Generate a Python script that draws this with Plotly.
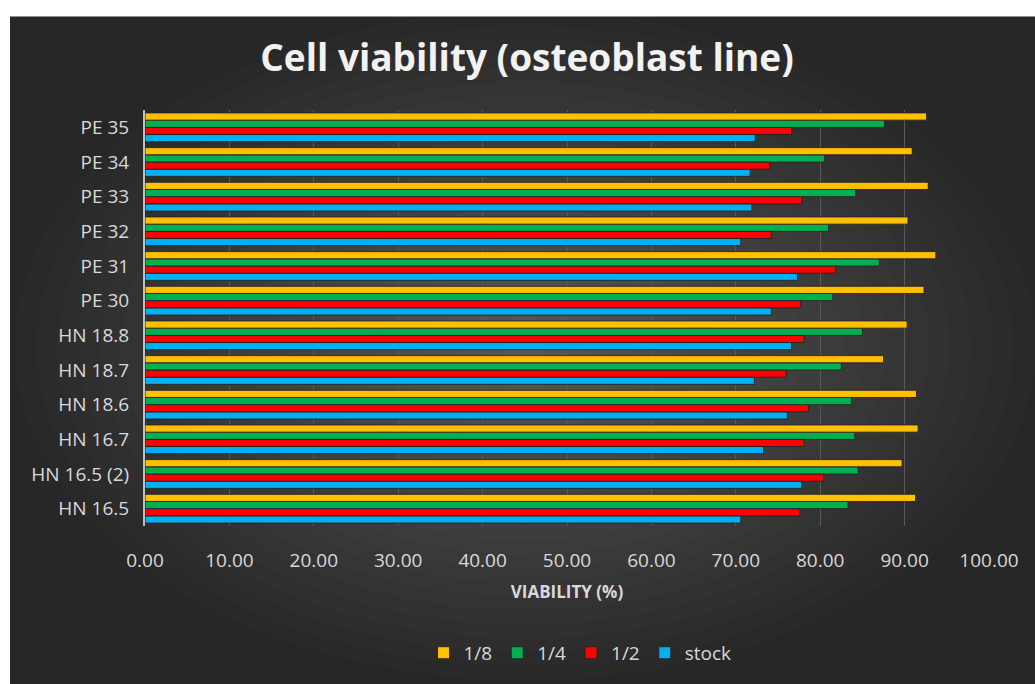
import plotly.graph_objects as go

categories = ["HN 16.5", "HN 16.5 (2)", "HN 16.7", "HN 18.6", "HN 18.7", "HN 18.8",
              "PE 30", "PE 31", "PE 32", "PE 33", "PE 34", "PE 35"]
stock = [70.6, 77.8, 73.3, 76.1, 72.2, 76.6, 74.2, 77.3, 70.6, 71.9, 71.7, 72.3]
half = [77.6, 80.4, 78.1, 78.6, 76.0, 78.1, 77.7, 81.8, 74.2, 77.8, 74.0, 76.6]
quarter = [83.3, 84.5, 84.1, 83.7, 82.5, 85.0, 81.5, 87.0, 81.0, 84.2, 80.5, 87.6]
eighth = [91.3, 89.7, 91.6, 91.4, 87.5, 90.3, 92.3, 93.7, 90.4, 92.8, 90.9, 92.6]

series_names = ["stock", "1/2", "1/4", "1/8"]
series_values = [stock, half, quarter, eighth]
series_colors = ["#00b0f0", "#ff0000", "#00b050", "#ffc000"]

fig = go.Figure()
for name, vals, col in zip(series_names, series_values, series_colors):
    fig.add_trace(go.Bar(
        y=categories, x=vals, name=name, orientation="h",
        marker=dict(color=col, line=dict(color="rgba(35,35,35,0.9)", width=1)),
    ))

L, R, T, B = 145, 46, 110, 151
W, H = 1035, 684
pw, ph = W - L - R, H - T - B

def px_x(p):
    return (p - L) / pw

def px_y(p):
    return (H - B - p) / ph

shapes = []
shapes.append(dict(type="rect", xref="paper", yref="paper", layer="below",
                   x0=px_x(10), x1=px_x(1060), y0=px_y(710), y1=px_y(15),
                   fillcolor="#272727", line=dict(width=0)))
n = 24
cx, cy = 525, 350
for i in range(n):
    f = 1 - i / n
    rx, ry = 510 * f, 340 * f
    shapes.append(dict(type="circle", xref="paper", yref="paper", layer="below",
                       x0=px_x(cx - rx), x1=px_x(cx + rx), y0=px_y(cy + ry), y1=px_y(cy - ry),
                       fillcolor="rgba(255,255,255,0.0115)", line=dict(width=0)))

fig.update_layout(
    width=W, height=H,
    margin=dict(l=L, r=R, t=T, b=B),
    paper_bgcolor="white",
    plot_bgcolor="rgba(0,0,0,0)",
    barmode="group", bargap=0.17, bargroupgap=0,
    shapes=shapes,
    font=dict(family="Open Sans", color="#d9d9d9", size=18),
    title=dict(text="<b>Cell viability (osteoblast line)</b>", x=527 / W, xref="container",
               xanchor="center", y=1 - 58 / H, yanchor="middle",
               font=dict(size=37, color="#f2f2f2", family="Open Sans")),
    xaxis=dict(range=[0, 100], dtick=10, tickformat=".2f", showgrid=True,
               gridcolor="#5a5a5a", gridwidth=1, zeroline=False, showline=False,
               ticks="", ticklabelstandoff=21,
               tickfont=dict(size=19, color="#d9d9d9"),
               title=dict(text="<b>VIABILITY (%)</b>", standoff=14,
                          font=dict(size=17, color="#d9d9d9"))),
    yaxis=dict(showline=True, linecolor="#bfbfbf", linewidth=2, showgrid=False,
               ticks="", ticklabelstandoff=10,
               tickfont=dict(size=19, color="#d9d9d9")),
    legend=dict(orientation="h", traceorder="reversed", x=px_x(580), xanchor="center",
                y=px_y(662), yanchor="middle", font=dict(size=19, color="#d9d9d9"),
                itemwidth=30, bgcolor="rgba(0,0,0,0)"),
)

fig.write_html("out.html")
